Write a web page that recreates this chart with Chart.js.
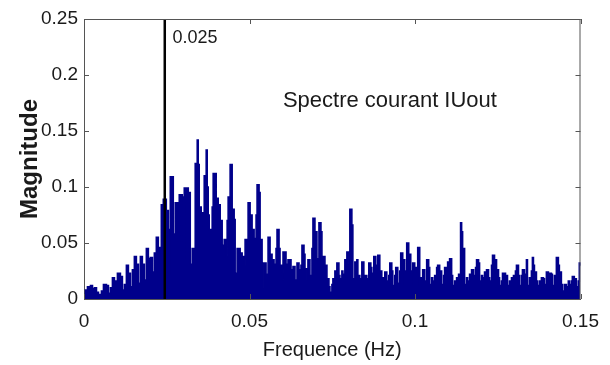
<!DOCTYPE html>
<html>
<head>
<meta charset="utf-8">
<script src="https://cdn.jsdelivr.net/npm/chart.js@4.4.1/dist/chart.umd.min.js"></script>
<style>
html,body{margin:0;padding:0;background:#fff;}
#wrap{width:610px;height:365px;}
</style>
</head>
<body>
<div id="wrap"><canvas id="c" width="610" height="365"></canvas></div>
<script>
// ---- data ----
const freqHz = [
0.00015,0.00045,0.00105,0.00196,0.00256,0.00316,0.00377,0.00437,0.00527,0.00588,
0.00678,0.00738,0.00799,0.00859,0.00919,0.00980,0.01010,0.01100,0.01160,0.01221,
0.01281,0.01341,0.01401,0.01462,0.01522,0.01582,0.01643,0.01703,0.01763,0.01823,
0.01884,0.01944,0.02004,0.02065,0.02125,0.02185,0.02245,0.02306,0.02336,0.02396,
0.02486,0.02547,0.02577,0.02607,0.02697,0.02758,0.02848,0.02878,0.02969,0.02999,
0.03029,0.03150,0.03210,0.03270,0.03360,0.03421,0.03451,0.03481,0.03541,0.03602,
0.03632,0.03692,0.03722,0.03752,0.03782,0.03843,0.03873,0.03903,0.03993,0.04054,
0.04114,0.04174,0.04235,0.04295,0.04325,0.04355,0.04415,0.04476,0.04536,0.04566,
0.04626,0.04717,0.04777,0.04837,0.04867,0.04958,0.05018,0.05078,0.05139,0.05199,
0.05229,0.05289,0.05320,0.05380,0.05410,0.05500,0.05561,0.05621,0.05681,0.05741,
0.05802,0.05832,0.05892,0.05922,0.05983,0.06013,0.06103,0.06133,0.06163,0.06254,
0.06314,0.06374,0.06435,0.06495,0.06555,0.06585,0.06646,0.06676,0.06736,0.06766,
0.06826,0.06887,0.06917,0.06977,0.07037,0.07098,0.07158,0.07188,0.07279,0.07339,
0.07399,0.07429,0.07490,0.07520,0.07580,0.07640,0.07701,0.07731,0.07791,0.07821,
0.07881,0.07942,0.08002,0.08032,0.08092,0.08122,0.08183,0.08243,0.08273,0.08333,
0.08394,0.08454,0.08544,0.08605,0.08665,0.08695,0.08755,0.08816,0.08876,0.08936,
0.08996,0.09027,0.09087,0.09147,0.09207,0.09238,0.09298,0.09328,0.09388,0.09418,
0.09479,0.09539,0.09569,0.09629,0.09690,0.09720,0.09750,0.09810,0.09871,0.09901,
0.09931,0.09991,0.10021,0.10082,0.10142,0.10172,0.10232,0.10293,0.10353,0.10413,
0.10443,0.10503,0.10534,0.10594,0.10654,0.10684,0.10745,0.10805,0.10865,0.10895,
0.10956,0.10986,0.11046,0.11106,0.11136,0.11197,0.11257,0.11317,0.11377,0.11408,
0.11438,0.11498,0.11558,0.11588,0.11649,0.11709,0.11769,0.11830,0.11860,0.11920,
0.11950,0.12010,0.12041,0.12101,0.12161,0.12221,0.12252,0.12312,0.12342,0.12402,
0.12463,0.12523,0.12553,0.12613,0.12643,0.12734,0.12794,0.12854,0.12915,0.12975,
0.13035,0.13065,0.13126,0.13156,0.13216,0.13246,0.13306,0.13367,0.13397,0.13457,
0.13517,0.13547,0.13578,0.13608,0.13668,0.13698,0.13758,0.13819,0.13879,0.13909,
0.13969,0.14030,0.14060,0.14120,0.14150,0.14211,0.14271,0.14331,0.14361,0.14422,
0.14452,0.14512,0.14572,0.14632,0.14663,0.14723,0.14753,0.14813,0.14874,0.14934,
0.14964,0.14994,0.15000
];
const magnitude = [
0.004,0.008,0.011,0.012,0.009,0.010,0.006,0.004,0.007,0.013,
0.012,0.005,0.010,0.019,0.016,0.009,0.023,0.020,0.008,0.013,
0.030,0.023,0.011,0.026,0.038,0.031,0.014,0.038,0.031,0.017,
0.045,0.036,0.037,0.024,0.041,0.055,0.046,0.032,0.084,0.089,
0.079,0.022,0.062,0.109,0.058,0.086,0.024,0.093,0.091,0.036,
0.099,0.095,0.031,0.045,0.121,0.142,0.120,0.082,0.077,0.064,
0.110,0.133,0.100,0.075,0.062,0.022,0.082,0.112,0.090,0.084,
0.070,0.048,0.053,0.038,0.070,0.091,0.120,0.080,0.071,0.023,
0.045,0.041,0.038,0.030,0.053,0.086,0.075,0.062,0.054,0.075,
0.102,0.095,0.053,0.010,0.032,0.022,0.055,0.040,0.035,0.031,
0.045,0.062,0.045,0.030,0.017,0.042,0.031,0.021,0.035,0.026,
0.029,0.017,0.032,0.026,0.030,0.048,0.040,0.027,0.017,0.035,
0.021,0.045,0.072,0.060,0.036,0.068,0.060,0.038,0.030,0.018,
0.011,0.006,0.013,0.018,0.025,0.032,0.021,0.018,0.025,0.022,
0.035,0.042,0.031,0.080,0.066,0.018,0.033,0.035,0.021,0.018,
0.033,0.021,0.018,0.032,0.028,0.023,0.038,0.030,0.039,0.025,
0.015,0.019,0.024,0.016,0.021,0.032,0.025,0.012,0.021,0.028,
0.014,0.025,0.041,0.035,0.013,0.025,0.050,0.040,0.013,0.025,
0.032,0.021,0.028,0.046,0.012,0.019,0.026,0.016,0.035,0.028,
0.013,0.019,0.016,0.021,0.028,0.030,0.025,0.013,0.021,0.028,
0.025,0.033,0.036,0.021,0.012,0.016,0.019,0.022,0.068,0.060,
0.045,0.013,0.019,0.016,0.022,0.026,0.021,0.028,0.035,0.032,
0.016,0.021,0.019,0.024,0.026,0.019,0.016,0.030,0.039,0.035,
0.026,0.019,0.012,0.016,0.023,0.021,0.012,0.016,0.019,0.021,
0.025,0.030,0.021,0.012,0.021,0.026,0.022,0.035,0.012,0.019,
0.025,0.037,0.030,0.024,0.016,0.012,0.016,0.019,0.018,0.013,
0.024,0.016,0.023,0.022,0.012,0.021,0.037,0.030,0.024,0.013,
0.007,0.013,0.011,0.016,0.013,0.016,0.020,0.018,0.011,0.016,
0.032,0.030,0.030
];
const markerFreq = 0.0244;          // vertical marker (labelled 0.025)
const markerLabel = '0.025';
const plotTitle = 'Spectre courant IUout';
const xTickValues = [0, 0.05, 0.1, 0.15];
const xTickLabels = ['0', '0.05', '0.1', '0.15'];
const yTickValues = [0, 0.05, 0.1, 0.15, 0.2, 0.25];
const yTickLabels = ['0', '0.05', '0.1', '0.15', '0.2', '0.25'];

// ---- build ----
const FONT = "'Liberation Sans', Arial, Helvetica, sans-serif";
const TXT = '#1a1a1a';
const AX = '#555';
const spectrumPts = freqHz.map((f, i) => ({x: f, y: magnitude[i]}));

const framePlugin = {
  id: 'frame',
  afterDraw(chart) {
    const {ctx, chartArea: a, scales: {x, y}} = chart;
    ctx.save();
    ctx.strokeStyle = AX;
    ctx.lineWidth = 1;
    ctx.beginPath();
    ctx.moveTo(a.left, a.top + 0.5); ctx.lineTo(a.right, a.top + 0.5);
    ctx.moveTo(a.right - 0.5, a.top); ctx.lineTo(a.right - 0.5, a.bottom);
    yTickValues.forEach(v => {
      const py = Math.round(y.getPixelForValue(v)) + 0.5;
      ctx.moveTo(a.left, py); ctx.lineTo(a.left + 5, py);
      ctx.moveTo(a.right, py); ctx.lineTo(a.right - 5, py);
    });
    xTickValues.forEach(v => {
      const px = Math.round(x.getPixelForValue(v)) + 0.5;
      ctx.moveTo(px, a.bottom); ctx.lineTo(px, a.bottom - 5);
      ctx.moveTo(px, a.top); ctx.lineTo(px, a.top + 5);
    });
    ctx.stroke();
    // annotations
    ctx.fillStyle = TXT;
    ctx.textBaseline = 'middle';
    ctx.textAlign = 'left';
    ctx.font = '18px ' + FONT;
    ctx.fillText(markerLabel, x.getPixelForValue(0.0267), y.getPixelForValue(0.233));
    ctx.font = '22px ' + FONT;
    ctx.fillText(plotTitle, x.getPixelForValue(0.0601), y.getPixelForValue(0.1768));
    ctx.restore();
  }
};

new Chart(document.getElementById('c'), {
  type: 'line',
  data: {
    datasets: [
      {
        data: [{x: markerFreq, y: 0}, {x: markerFreq, y: 0.25}],
        borderColor: '#000', borderWidth: 2.5, pointRadius: 0, fill: false, order: 0
      },
      {
        data: spectrumPts,
        stepped: true,
        fill: 'origin',
        backgroundColor: '#00008B',
        borderColor: '#00008B',
        borderWidth: 1.6,
        pointRadius: 0,
        order: 1
      }
    ]
  },
  options: {
    responsive: false,
    animation: false,
    layout: {padding: {top: 19, right: 29, left: 0, bottom: 0}},
    plugins: {legend: {display: false}, tooltip: {enabled: false}},
    scales: {
      x: {
        type: 'linear', min: 0, max: 0.15,
        afterBuildTicks(s) { s.ticks = xTickValues.map(v => ({value: v})); },
        ticks: {
          callback: (v) => xTickLabels[xTickValues.indexOf(v)] ?? '',
          font: {family: FONT, size: 19}, color: TXT, padding: 11,
          maxRotation: 0, autoSkip: false
        },
        grid: {display: false, drawTicks: false, tickLength: 0},
        border: {display: true, color: AX, width: 1},
        title: {display: true, text: 'Frequence (Hz)', color: TXT,
                font: {family: FONT, size: 20}, padding: {top: 0, bottom: 3}},
        afterFit(s) { s.height = 66; }
      },
      y: {
        type: 'linear', min: 0, max: 0.25,
        afterBuildTicks(s) { s.ticks = yTickValues.map(v => ({value: v})); },
        ticks: {
          callback: (v) => yTickLabels[yTickValues.indexOf(v)] ?? '',
          font: {family: FONT, size: 19}, color: TXT, padding: 6, autoSkip: false
        },
        grid: {display: false, drawTicks: false, tickLength: 0},
        border: {display: true, color: AX, width: 1},
        title: {display: true, text: 'Magnitude', color: TXT,
                font: {family: FONT, size: 24, weight: 'bold'}, padding: {top: 16, bottom: 0}},
        afterFit(s) { s.width = 84; }
      }
    }
  },
  plugins: [framePlugin]
});
</script>
</body>
</html>
